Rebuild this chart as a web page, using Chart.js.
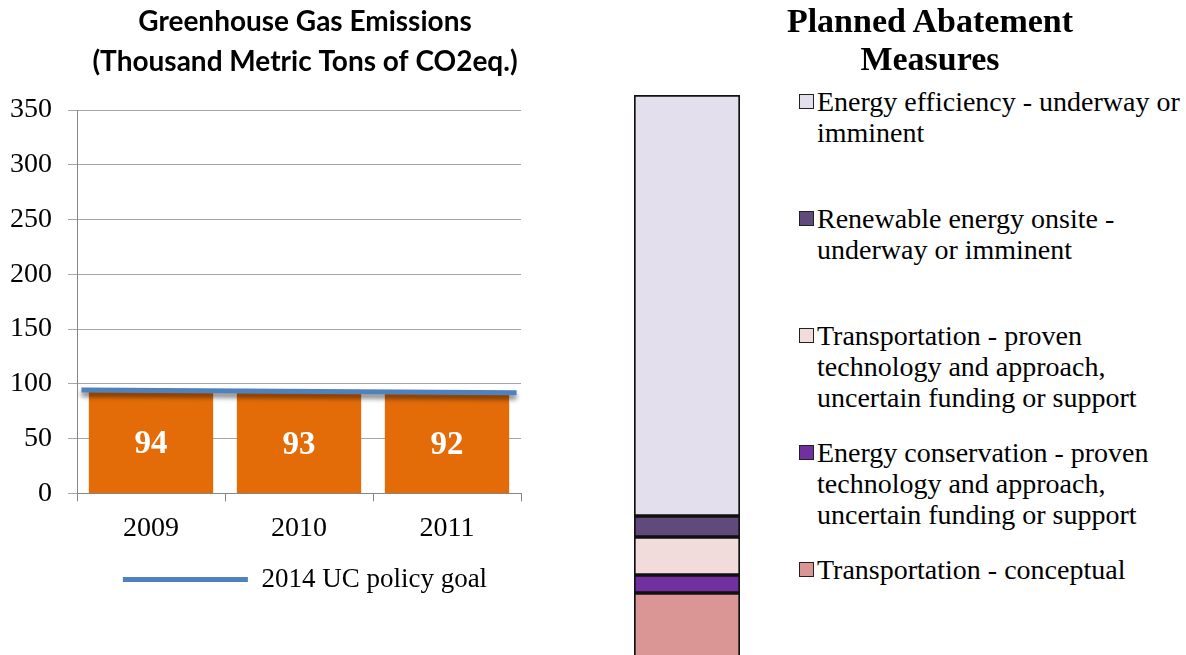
<!DOCTYPE html>
<html>
<head>
<meta charset="utf-8">
<script src="https://cdn.jsdelivr.net/npm/chart.js@4"></script>
<style>
  html, body { margin: 0; padding: 0; background: #fff; }
  body { width: 1186px; height: 655px; overflow: hidden; position: relative; font-family: 'Liberation Serif', serif; }
  #left { position: absolute; left: 0; top: 0; width: 610px; height: 655px; }
  #right { position: absolute; left: 600px; top: 0; width: 180px; height: 720px; }
  #rtitle { position: absolute; left: 730px; top: 2px; width: 400px; text-align: center; font: bold 34px/38px 'Liberation Serif', serif; color: #000; }
  #rlegend { position: absolute; left: 799px; top: 0; }
  .item { position: absolute; left: 0; width: 390px; font-size: 28px; line-height: 31px; color: #000; }
  .sw { position: absolute; left: 0; top: 8px; width: 13px; height: 13px; border: 1px solid #222; }
  .txt { position: absolute; left: 18px; top: 0; white-space: nowrap; }
</style>
</head>
<body>
<div id="left"><canvas id="ghgChart"></canvas></div>
<div id="right"><canvas id="abateChart"></canvas></div>
<div id="rtitle">Planned Abatement<br>Measures</div>
<div id="rlegend"></div>
<script>
// emissions, thousand metric tons CO2eq
const years = ['2009', '2010', '2011'];
const emissions = [94, 93, 92];
// policy goal line, drawn edge to edge across the plot (0..3 = category span)
const goalPos = [0.03, 2.97];
const goalValues = [94.5, 92];

// abatement measures, bottom of stack first
const measures = [
    ['Transportation - conceptual'],
    ['Energy conservation - proven', 'technology and approach,', 'uncertain funding or support'],
    ['Transportation - proven', 'technology and approach,', 'uncertain funding or support'],
    ['Renewable energy onsite -', 'underway or imminent'],
    ['Energy efficiency - underway or', 'imminent']
];
const measureValues = [11.2, 1.8, 3.8, 2.1, 42.1];
const measureColors = ['#D99694', '#7030A0', '#F2DCDB', '#604A7B', '#E4DFEC'];

const serif = "'Liberation Serif', serif";
const axisGrey = '#868686';

const barLabels = {
    id: 'barLabels',
    afterDatasetsDraw(chart) {
        const meta = chart.getDatasetMeta(1);
        const ctx = chart.ctx;
        ctx.save();
        ctx.fillStyle = '#fff';
        ctx.font = 'bold 33px ' + serif;
        ctx.textAlign = 'center';
        ctx.textBaseline = 'middle';
        meta.data.forEach((el, i) => {
            ctx.fillText(emissions[i], el.x, (el.y + el.base) / 2 + 3);
        });
        ctx.restore();
    }
};

const lineShadow = {
    id: 'lineShadow',
    beforeDatasetDraw(chart, args) {
        if (args.index !== 0) return;
        const ctx = chart.ctx;
        ctx.save();
        ctx.shadowColor = 'rgba(0,0,0,0.55)';
        ctx.shadowBlur = 5;
        ctx.shadowOffsetY = 4;
    },
    afterDatasetDraw(chart, args) {
        if (args.index === 0) chart.ctx.restore();
    }
};

new Chart(document.getElementById('ghgChart'), {
    type: 'bar',
    data: {
        labels: years,
        datasets: [
            {
                type: 'line',
                label: '2014 UC policy goal',
                data: goalPos.map((x, i) => ({ x: x, y: goalValues[i] })),
                xAxisID: 'xg',
                borderColor: '#4F81BD',
                backgroundColor: '#4F81BD',
                borderWidth: 5,
                pointRadius: 0,
                order: 0
            },
            {
                type: 'bar',
                label: 'Emissions',
                data: emissions,
                backgroundColor: '#E36C09',
                barPercentage: 0.84,
                categoryPercentage: 1.0,
                grouped: false,
                order: 1
            }
        ]
    },
    options: {
        responsive: true,
        maintainAspectRatio: false,
        animation: false,
        layout: { padding: { top: 2, bottom: 52, left: 0, right: 0 } },
        plugins: {
            title: {
                display: true,
                text: ['Greenhouse Gas Emissions', '(Thousand Metric Tons of CO2eq.)'],
                color: '#000',
                font: { family: 'Lato', weight: 'bold', size: 28, lineHeight: 1.43 },
                padding: { top: 0, bottom: 28 }
            },
            legend: {
                position: 'bottom',
                labels: {
                    color: '#000',
                    font: { family: serif, size: 27 },
                    boxWidth: 125,
                    boxHeight: 5,
                    padding: 10,
                    generateLabels: chart => Chart.defaults.plugins.legend.labels.generateLabels(chart)
                        .filter(item => item.datasetIndex === 0)
                        .map(item => Object.assign(item, { lineWidth: 0, fillStyle: '#4F81BD' }))
                }
            },
            tooltip: { enabled: false }
        },
        scales: {
            x: {
                grid: { offset: true, drawOnChartArea: false, drawTicks: true, tickLength: 8, color: axisGrey },
                border: { color: axisGrey },
                ticks: { color: '#000', font: { family: serif, size: 28 }, padding: 10 },
                afterFit: s => { s.height += 1; }
            },
            xg: { type: 'linear', display: false, offset: false, min: 0, max: 3 },
            y: {
                min: 0,
                max: 350,
                ticks: { stepSize: 50, color: '#000', font: { family: serif, size: 28 }, padding: 16 },
                grid: { color: '#a6a6a6', tickLength: 9 },
                border: { color: axisGrey },
                afterFit: s => { s.width = 77; }
            },
            yPad: {
                position: 'right',
                grid: { display: false },
                border: { display: false },
                ticks: { display: false },
                afterFit: s => { s.width = 89; }
            }
        }
    },
    plugins: [barLabels, lineShadow]
});

new Chart(document.getElementById('abateChart'), {
    type: 'bar',
    data: {
        labels: [''],
        datasets: measures.map((m, i) => ({
            label: m.join(' '),
            data: [measureValues[i]],
            backgroundColor: measureColors[i],
            borderColor: '#111',
            borderWidth: 2,
            borderSkipped: false,
            barPercentage: 1,
            categoryPercentage: 1
        }))
    },
    options: {
        responsive: true,
        maintainAspectRatio: false,
        animation: false,
        layout: { padding: { top: 95, bottom: 15, left: 34, right: 40 } },
        plugins: { legend: { display: false }, tooltip: { enabled: false } },
        scales: {
            x: { stacked: true, display: false },
            y: { stacked: true, display: false, min: 0, max: measureValues.reduce((a, b) => a + b, 0) }
        }
    }
});

// legend for the abatement stack, top segment first
const legendBox = document.getElementById('rlegend');
measures.slice().reverse().forEach((lines, i) => {
    const idx = measures.length - 1 - i;
    const item = document.createElement('div');
    item.className = 'item';
    item.style.top = (86 + i * 117) + 'px';
    item.innerHTML = '<div class="sw" style="background:' + measureColors[idx] + '"></div>' +
        '<div class="txt">' + lines.join('<br>') + '</div>';
    legendBox.appendChild(item);
});
</script>
</body>
</html>
